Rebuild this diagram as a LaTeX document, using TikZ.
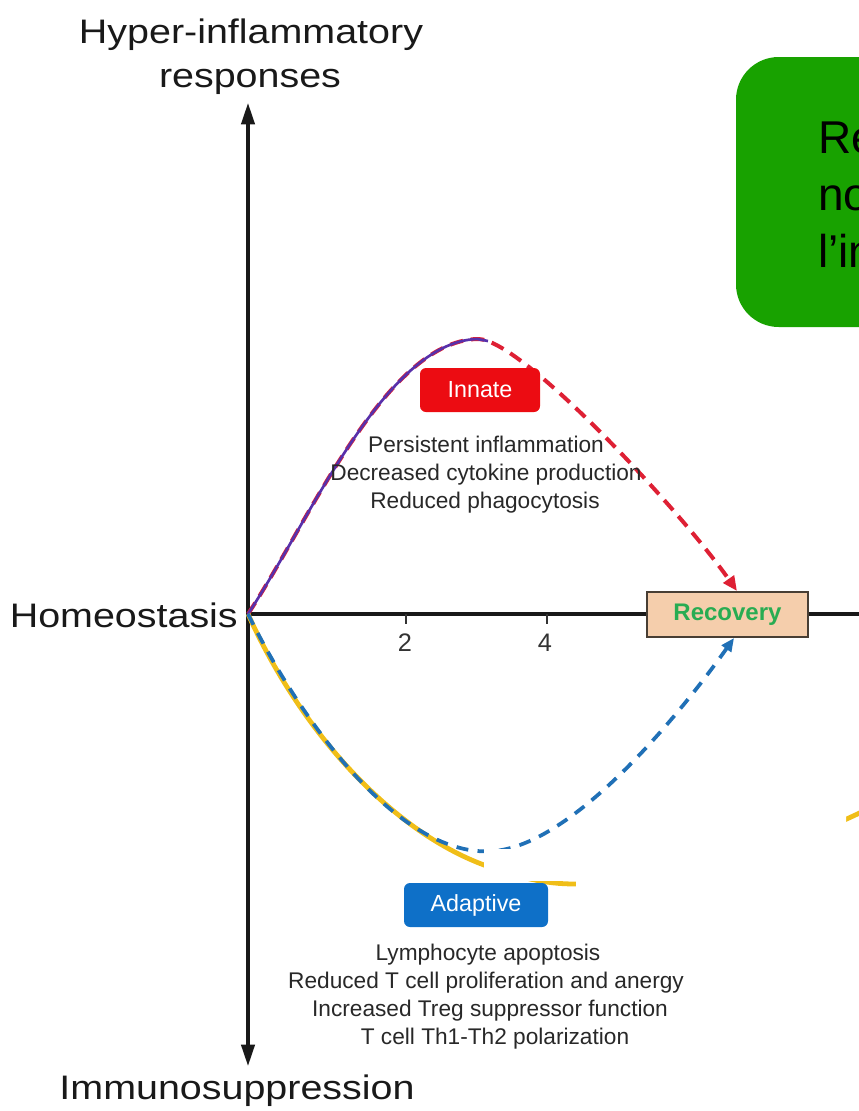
\documentclass[tikz,border=0pt]{standalone}
\usepackage{fontspec}
\setmainfont{Liberation Sans}
\newfontfamily\widesans[FakeStretch=1.16]{Liberation Sans}
\usetikzlibrary{arrows.meta}
\definecolor{greenbox}{RGB}{24,162,0}
\definecolor{innred}{RGB}{236,12,18}
\definecolor{dashred}{RGB}{222,32,52}
\definecolor{curvepurple}{RGB}{88,48,170}
\definecolor{adblue}{RGB}{14,112,200}
\definecolor{dashblue}{RGB}{32,112,182}
\definecolor{curveyellow}{RGB}{240,190,24}
\definecolor{recfill}{RGB}{245,206,172}
\definecolor{recborder}{RGB}{72,62,52}
\definecolor{recgreen}{RGB}{40,172,82}
\definecolor{textgray}{RGB}{40,40,40}
\begin{document}
\begin{tikzpicture}[x=0.75pt,y=-0.75pt,
  biglabel/.style={font=\widesans\fontsize{25.5}{30}\selectfont, inner sep=0pt, text=black!90},
  notetext/.style={font=\fontsize{34.5}{40}\selectfont, inner sep=0pt, anchor=base west, text=black},
  itemtext/.style={font=\fontsize{17}{20}\selectfont, inner sep=0pt, anchor=base, text=textgray},
  ticklabel/.style={font=\fontsize{19}{22}\selectfont, inner sep=0pt, text=black!80},
  axisline/.style={line width=2.3pt, black!90},
  tickline/.style={line width=1.5pt, black!80},
  tagbox/.style={rounded corners=4.5pt, minimum height=33pt, inner sep=0pt, text=white, font=\fontsize{17.5}{20}\selectfont},
  recbox/.style={fill=recfill, draw=recborder, line width=1.5pt, minimum width=120.75pt, minimum height=33.75pt, inner sep=0pt, text=recgreen, font=\bfseries\fontsize{18}{20}\selectfont},
  reddash/.style={dashred, line width=3pt, dash pattern=on 10pt off 6pt, -{Triangle[length=11pt,width=9.5pt]}},
  bluedash/.style={dashblue, line width=2.8pt, dash pattern=on 9pt off 7pt, -{Triangle[length=10pt,width=8.5pt]}},
  purplecurve/.style={curvepurple, line width=2pt},
  yellowcurve/.style={curveyellow, line width=3.6pt},
]
\useasboundingbox (0,0) rectangle (859,1111);
\clip (0,0) rectangle (859,1111);

% green note box (cut by the right edge)
\fill[greenbox, rounded corners=32pt] (736,57) rectangle (920,327);
\node[notetext] (n1) at (818,153) {Re};
\node[notetext] (n2) at (818,210) {no};
\node[notetext] (n3) at (818,267) {l’in};

% axis labels
\node[biglabel, anchor=base] (hyper) at (251,43) {Hyper-inflammatory};
\node[biglabel, anchor=base] (resp) at (250,87) {responses};
\node[biglabel, anchor=base east] (homeo) at (238,627) {Homeostasis};
\node[biglabel, anchor=base] (immuno) at (237,1099) {Immunosuppression};

% axes
\coordinate (O) at (248,614);
\coordinate (ytop) at (248,103);
\coordinate (ybot) at (248,1066);
\coordinate (xend) at (870,614);
\draw[axisline] (O) -- (xend);
\draw[axisline, {Triangle[length=16pt,width=10pt]}-{Triangle[length=16pt,width=10pt]}] (ytop) -- (ybot);

% ticks
\coordinate (t2) at (406,614);
\coordinate (t4) at (547,614);
\draw[tickline] (t2) -- ++(0,10);
\draw[tickline] (t4) -- ++(0,10);
\node[ticklabel] (l2) at (405,643) {2};
\node[ticklabel] (l4) at (545,643) {4};

% recovery box
\node[recbox] (rec) at (727.5,614.5) {Recovery};

% innate curve
\coordinate (peak) at (477,339);
\draw[reddash] (O) .. controls (310,520) and (385,342) .. (peak)
   .. controls (520,337) and (680,510) .. ([xshift=7.1pt]rec.north);
\draw[purplecurve] (O) .. controls (310,520) and (385,342) .. (peak) -- (488,341);

% adaptive curve
\draw[yellowcurve] (O) .. controls (300,730) and (390,830) .. (484,865)
   .. controls (520,878) and (545,884) .. (575,884)
   .. controls (700,882) and (800,842) .. (870,808);
\coordinate (trough) at (495,851);
\draw[bluedash] (O) .. controls (300,720) and (400,860) .. (trough)
   .. controls (580,842) and (690,700) .. ([xshift=4.9pt]rec.south);

% white patches covering the lower curve
\fill[white] (484,849) rectangle (576,881);
\fill[white] (576,840) -- (846,803) -- (846,905) -- (576,905) -- cycle;

% tags
\node[tagbox, fill=innred, minimum width=90pt] (innate) at (480,390) {Innate};
\node[tagbox, fill=adblue, minimum width=108pt] (adaptive) at (476,905) {Adaptive};

% innate effects
\node[itemtext] (i1) at (486,452) {Persistent inflammation};
\node[itemtext] (i2) at (486,480) {Decreased cytokine production};
\node[itemtext] (i3) at (485,508) {Reduced phagocytosis};

% adaptive effects
\node[itemtext] (a1) at (488,960) {Lymphocyte apoptosis};
\node[itemtext] (a2) at (486,988) {Reduced T cell proliferation and anergy};
\node[itemtext] (a3) at (490,1016) {Increased Treg suppressor function};
\node[itemtext] (a4) at (495,1044) {T cell Th1-Th2 polarization};
\end{tikzpicture}
\end{document}
